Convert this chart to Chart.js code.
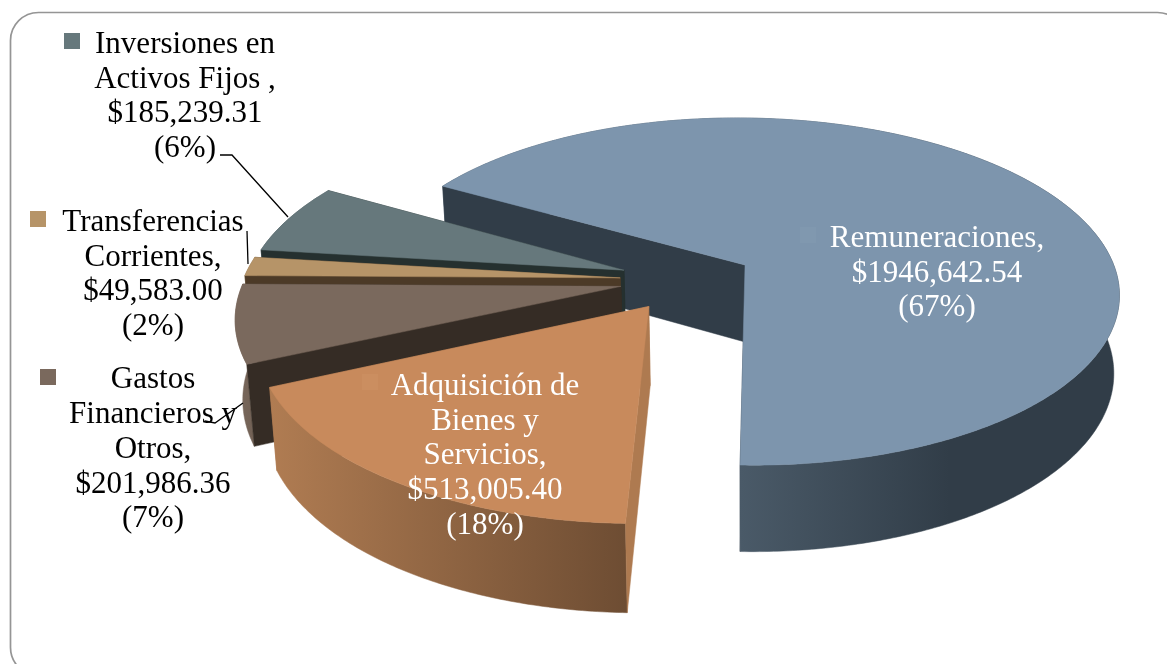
<!DOCTYPE html>
<html>
<head>
<meta charset="utf-8">
<style>
  html, body { margin: 0; padding: 0; background: #fff; overflow: hidden; }
  #wrap { width: 1167px; height: 664px; }
</style>
<script src="https://cdn.jsdelivr.net/npm/chart.js@4"></script>
</head>
<body>
<div id="wrap"><canvas id="gastosChart" width="1167" height="664"></canvas></div>
<script>
// Datos del grafico
const categories = ["Remuneraciones", "Adquisición de Bienes y Servicios", "Gastos Financieros y Otros", "Transferencias Corrientes", "Inversiones en Activos Fijos"];
const values = [1946642.54, 513005.40, 201986.36, 49583.00, 185239.31];
const nameLines = [
  ["Remuneraciones,"],
  ["Adquisición de", "Bienes y", "Servicios,"],
  ["Gastos", "Financieros y", "Otros,"],
  ["Transferencias", "Corrientes,"],
  ["Inversiones en", "Activos Fijos ,"],
];
const amountLabels = ["$1946,642.54", "$513,005.40", "$201,986.36", "$49,583.00", "$185,239.31"];
const percentLabels = ["(67%)", "(18%)", "(7%)", "(2%)", "(6%)"];

// Colores por porcion
const topColors = ["#7d95ad", "#c88a5c", "#7a695d", "#b69468", "#66787c"];
const keyColors = ["#8098af", "#cb8e60", "#7a695d", "#b69468", "#66787c"];
const textColors = ["#ffffff", "#ffffff", "#000000", "#000000", "#000000"];
const bandColors = [["#4a5a68", "#313d48"], ["#b07c52", "#6e4d33"], ["#7a695d", "#6b5b4f"], ["#8a6f4d", "#8a6f4d"], ["#4b5a5d", "#4b5a5d"]];
const bandRange = [[740, 950], [270, 625], [235, 270], [240, 300], [255, 330]];
const startWall = ["#313d48", "#ae7a50", "#352c25", "#4c3a27", "#25302f"];
const endWall = ["#313d48", "#ae7a50", "#352c25", "#4c3a27", "#25302f"];

// Posiciones de texto
const labelSpots = [
  { x: 937, y: 239, step: 34.5 },
  { x: 485, y: 387, step: 34.6 },
  { x: 153, y: 380, step: 34.8 },
  { x: 153, y: 223, step: 34.6 },
  { x: 185, y: 45, step: 34.6 },
];
const keySpots = [[800, 227], [362, 374], [40, 369], [30, 211], [64, 33]];
const leaders = [
  [[220, 155], [232, 155], [288, 217]],
  [[247, 231], [248, 264]],
  [[205, 421], [215, 423], [243, 403]],
];

// Vista: proyeccion en perspectiva del plano de la torta
const view = { cx: 745, cy: 265, rx: 370, ry: 169.5, k: 0.153, roll: 0.01, depth: 77, shrink: 0.985, shiftU: -0.1543, shiftV: 0.0903 };

function project(u, v, low) {
  const U = u + view.shiftU;
  const V = v + view.shiftV;
  const s = 1 / (1 - view.k * V);
  const x = view.cx + U * s * view.rx;
  const y = view.cy + V * s * view.ry + (x - view.cx) * view.roll;
  if (!low) return { x: x, y: y };
  return { x: view.cx + (x - view.cx) * view.shrink, y: y + view.depth * Math.pow(s, 0.7) };
}

function fillPoly(ctx, pts, color) {
  ctx.beginPath();
  pts.forEach((p, i) => (i ? ctx.lineTo(p.x, p.y) : ctx.moveTo(p.x, p.y)));
  ctx.closePath();
  ctx.fillStyle = color;
  ctx.fill();
  ctx.strokeStyle = color;
  ctx.lineWidth = 0.5;
  ctx.stroke();
}

function drawSlice(ctx, arc, i) {
  const opts = arc.options;
  const mid = (arc.startAngle + arc.endAngle) / 2;
  const m = opts.offset / arc.outerRadius;
  const u0 = Math.cos(mid) * m;
  const v0 = Math.sin(mid) * m;
  const steps = Math.max(4, Math.round((arc.endAngle - arc.startAngle) * 90));
  const rim = [];
  for (let n = 0; n <= steps; n++) {
    const a = arc.startAngle + ((arc.endAngle - arc.startAngle) * n) / steps;
    rim.push([u0 + Math.cos(a), v0 + Math.sin(a)]);
  }
  const apexTop = project(u0, v0, false);
  const apexLow = project(u0, v0, true);
  const rimTop = rim.map((p) => project(p[0], p[1], false));
  const rimLow = rim.map((p) => project(p[0], p[1], true));

  // pared trasera, queda tapada
  fillPoly(ctx, [apexTop, rimTop[steps], rimLow[steps], apexLow], endWall[i]);

  // banda exterior
  const g = ctx.createLinearGradient(bandRange[i][0], 0, bandRange[i][1], 0);
  g.addColorStop(0, bandColors[i][0]);
  g.addColorStop(1, bandColors[i][1]);
  fillPoly(ctx, rimTop.concat(rimLow.slice().reverse()), g);

  // pared delantera
  fillPoly(ctx, [apexTop, rimTop[0], rimLow[0], apexLow], startWall[i]);

  // cara superior
  fillPoly(ctx, [apexTop].concat(rimTop), topColors[i]);
}

const piePlugin = {
  id: "pie3d",
  beforeDraw(chart) {
    const ctx = chart.ctx;
    ctx.save();
    ctx.fillStyle = "#fff";
    ctx.fillRect(0, 0, chart.width, chart.height);
    ctx.beginPath();
    ctx.roundRect(10.5, 12.5, 1175, 663, 28);
    ctx.strokeStyle = "#959595";
    ctx.lineWidth = 1.7;
    ctx.stroke();
    ctx.restore();
  },
  beforeDatasetsDraw(chart) {
    const ctx = chart.ctx;
    const arcs = chart.getDatasetMeta(0).data;
    ctx.save();
    [0, 4, 3, 2, 1].forEach((i) => drawSlice(ctx, arcs[i], i));
    ctx.restore();
    return false;
  },
  afterDraw(chart) {
    const ctx = chart.ctx;
    ctx.save();
    ctx.strokeStyle = "#000";
    ctx.lineWidth = 1.3;
    leaders.forEach((line) => {
      ctx.beginPath();
      line.forEach((p, i) => (i ? ctx.lineTo(p[0], p[1]) : ctx.moveTo(p[0], p[1])));
      ctx.stroke();
    });
    keySpots.forEach((k, i) => {
      ctx.fillStyle = keyColors[i];
      ctx.fillRect(k[0], k[1], 16, 16);
    });
    ctx.font = '31px "Liberation Serif"';
    ctx.textAlign = "center";
    ctx.textBaseline = "middle";
    categories.forEach((c, i) => {
      const lines = nameLines[i].concat([amountLabels[i], percentLabels[i]]);
      ctx.fillStyle = textColors[i];
      lines.forEach((t, n) => ctx.fillText(t, labelSpots[i].x, labelSpots[i].y + n * labelSpots[i].step));
    });
    ctx.restore();
  },
};

new Chart(document.getElementById("gastosChart").getContext("2d"), {
  type: "pie",
  data: {
    labels: categories,
    datasets: [{ data: values, backgroundColor: topColors, borderWidth: 0, offset: 54.5 }],
  },
  options: {
    responsive: false,
    animation: false,
    rotation: -61.3,
    layout: { padding: 0 },
    plugins: { legend: { display: false }, tooltip: { enabled: false } },
  },
  plugins: [piePlugin],
});
</script>
</body>
</html>
